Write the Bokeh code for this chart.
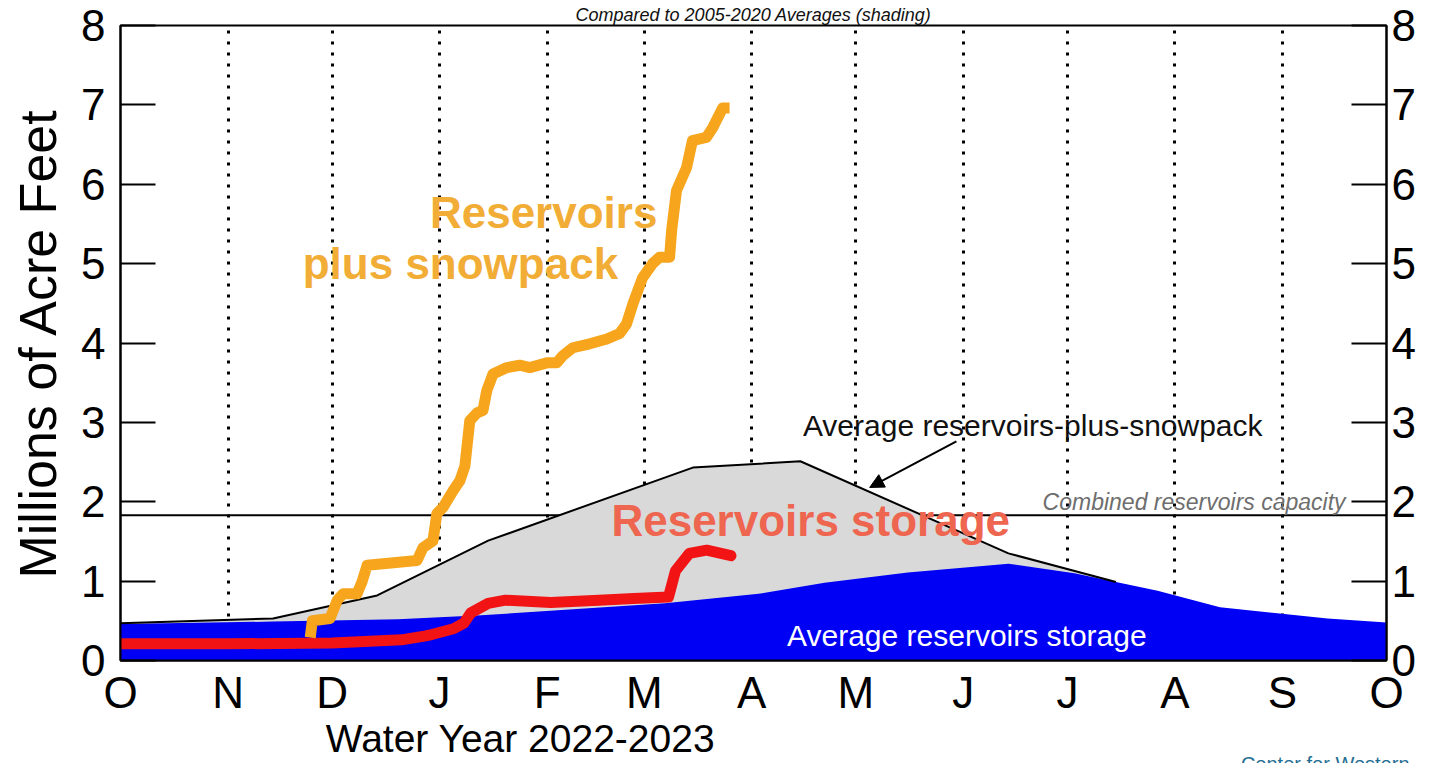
from bokeh.plotting import figure
from bokeh.models import FixedTicker, LinearAxis, Span, Label, Arrow, NormalHead, Title
from bokeh.embed import file_html
from bokeh.resources import INLINE

# ---------------- data ----------------
month_ticks = [0, 31, 61, 92, 123, 151, 182, 212, 243, 273, 304, 335, 365]
month_labels = ["O", "N", "D", "J", "F", "M", "A", "M", "J", "J", "A", "S", "O"]
y_ticks = [0, 1, 2, 3, 4, 5, 6, 7, 8]

capacity = 1.83

# average reservoirs storage (blue shading), day of water year
avg_storage_day = [0, 44, 80, 104, 157, 184, 203, 227, 256, 275, 299, 317, 348, 365]
avg_storage = [0.46, 0.49, 0.52, 0.57, 0.72, 0.84, 0.98, 1.11, 1.22, 1.10, 0.88, 0.67, 0.53, 0.48]

# average reservoirs-plus-snowpack (grey shading)
avg_total_day = [0, 44, 74, 106, 165, 196, 256, 287]
avg_total = [0.47, 0.53, 0.82, 1.51, 2.43, 2.51, 1.35, 0.99]

# 2022-2023 reservoirs storage (red)
storage_day = [0, 31, 61, 81, 88, 90, 96, 99, 101, 106, 111, 124, 138, 148, 158, 160, 164, 169, 176]
storage = [0.21, 0.21, 0.22, 0.26, 0.31, 0.33, 0.40, 0.47, 0.60, 0.72, 0.76, 0.73, 0.76, 0.78, 0.80,
           1.13, 1.35, 1.39, 1.32]

# 2022-2023 reservoirs plus snowpack (orange)
total_day = [54.7, 55.3, 60.4, 62.5, 64.2, 68.2, 69.7, 71.1, 75.7, 85.5, 87.2, 90.1, 91.2, 93.0,
             95.9, 97.9, 99.3, 100.7, 102.8, 104.5, 105.6, 107.4, 111.4, 115.1, 118.0, 122.9,
             125.8, 127.5, 130.4, 135.3, 140.2, 143.9, 145.9, 147.7, 150.5, 153.4, 155.4, 158.3,
             158.9, 160.3, 163.2, 164.9, 168.9, 170.7, 173.6, 175.6]
total = [0.29, 0.50, 0.53, 0.76, 0.84, 0.84, 1.00, 1.20, 1.22, 1.26, 1.42, 1.51, 1.85, 1.93,
         2.14, 2.27, 2.45, 3.02, 3.12, 3.15, 3.40, 3.61, 3.69, 3.72, 3.69, 3.75,
         3.75, 3.84, 3.94, 3.99, 4.05, 4.12, 4.24, 4.49, 4.82, 5.00, 5.08, 5.08,
         5.42, 5.92, 6.21, 6.55, 6.59, 6.71, 6.96, 6.96]

FONT = "Liberation Sans"
ORANGE = "#F6A51D"
RED = "#F21414"
BLUE = "#0000F5"
GREY = "#D9D9D9"
NBSP = "\u00a0"

p = figure(width=1418, height=763, x_range=(0, 365), y_range=(0, 8),
           output_backend="svg", toolbar_location=None,
           min_border_left=120, min_border_right=30, min_border_top=25, min_border_bottom=103)
p.outline_line_color = "black"
p.outline_line_width = 2
p.background_fill_color = "white"
p.border_fill_color = "white"

# title (cropped in the reference; kept small so it fits above the frame)
p.title.text = "Compared to 2005-2020 Averages (shading)"
p.title.align = "center"
p.title.text_font = FONT
p.title.text_font_size = "18px"
p.title.text_font_style = "italic"
p.title.text_color = "#111111"
p.title.standoff = 2

# grid: dotted month lines
p.ygrid.visible = False
p.xgrid.ticker = FixedTicker(ticks=month_ticks[1:-1])
p.xgrid.grid_line_color = "black"
p.xgrid.grid_line_width = 3
p.xgrid.grid_line_dash = "3 8"

# x axis
xa = p.xaxis[0]
xa.ticker = FixedTicker(ticks=month_ticks)
xa.major_label_overrides = {t: l for t, l in zip(month_ticks, month_labels)}
xa.major_tick_in = 0
xa.major_tick_out = 0
xa.minor_tick_in = 0
xa.minor_tick_out = 0
xa.axis_line_width = 2
xa.major_label_text_font = FONT
xa.major_label_text_font_size = "44px"
xa.major_label_text_color = "black"
xa.major_label_standoff = 7
# the reference's axis title sits left of centre: pad it with no-break spaces
xa.axis_label = "Water Year 2022-2023" + NBSP * 43
xa.axis_label_text_font = FONT
xa.axis_label_text_font_size = "39px"
xa.axis_label_text_font_style = "normal"
xa.axis_label_text_color = "black"
xa.axis_label_standoff = -3


def style_y(ax):
    ax.ticker = FixedTicker(ticks=y_ticks)
    ax.major_tick_in = 35
    ax.major_tick_out = 0
    ax.minor_tick_in = 0
    ax.minor_tick_out = 0
    ax.axis_line_width = 2
    ax.major_tick_line_width = 2
    ax.major_label_text_font = FONT
    ax.major_label_text_font_size = "44px"
    ax.major_label_text_color = "black"


ya = p.yaxis[0]
style_y(ya)
ya.major_label_standoff = 15
ya.axis_label = "Millions of Acre Feet"
ya.axis_label_text_font = FONT
ya.axis_label_text_font_size = "52px"
ya.axis_label_text_font_style = "normal"
ya.axis_label_text_color = "black"
ya.axis_label_standoff = 11

yr = LinearAxis()
style_y(yr)
yr.major_label_standoff = 5
p.add_layout(yr, "right")

# logo text at bottom right (cropped by the bottom edge, as in the reference)
p.add_layout(Title(text="Center for Western", align="right", offset=-23, standoff=-24,
                   text_font=FONT, text_font_size="20px", text_font_style="normal",
                   text_color="#1F6E93"), "below")

# capacity line (behind shading)
p.add_layout(Span(location=capacity, dimension="width", line_color="black",
                  line_width=2, level="underlay"))

# shading
p.varea(x=avg_total_day, y1=0, y2=avg_total, fill_color=GREY)
p.varea(x=avg_storage_day, y1=0, y2=avg_storage, fill_color=BLUE)
p.line(avg_total_day, avg_total, line_color="black", line_width=2)

# current year lines
p.line(storage_day, storage, line_color=RED, line_width=11, line_join="round", line_cap="round")
p.line(total_day, total, line_color=ORANGE, line_width=11, line_join="round", line_cap="butt")


def lab(x, y, text, size, color, style="normal", align="center", baseline="middle"):
    p.add_layout(Label(x=x, y=y, text=text, text_font=FONT, text_font_size=size,
                       text_color=color, text_font_style=style, text_align=align,
                       text_baseline=baseline))


lab(122, 5.64, "Reservoirs", "44px", "#F1AD36", "bold")
lab(98, 5.0, "plus snowpack", "44px", "#F1AD36", "bold")
lab(199, 1.76, "Reservoirs storage", "44px", "#EE6550", "bold")
lab(263, 2.96, "Average reservoirs-plus-snowpack", "30px", "#111111")
lab(353.2, 2.0, "Combined reservoirs capacity", "23px", "#6e6e6e", "italic", align="right")
lab(244, 0.31, "Average reservoirs storage", "30px", "white")

p.add_layout(Arrow(end=NormalHead(size=14, fill_color="black", line_color="black"),
                   x_start=241, y_start=2.76, x_end=216, y_end=2.18,
                   line_color="black", line_width=2))

open("out.html", "w").write(file_html(p, INLINE))
